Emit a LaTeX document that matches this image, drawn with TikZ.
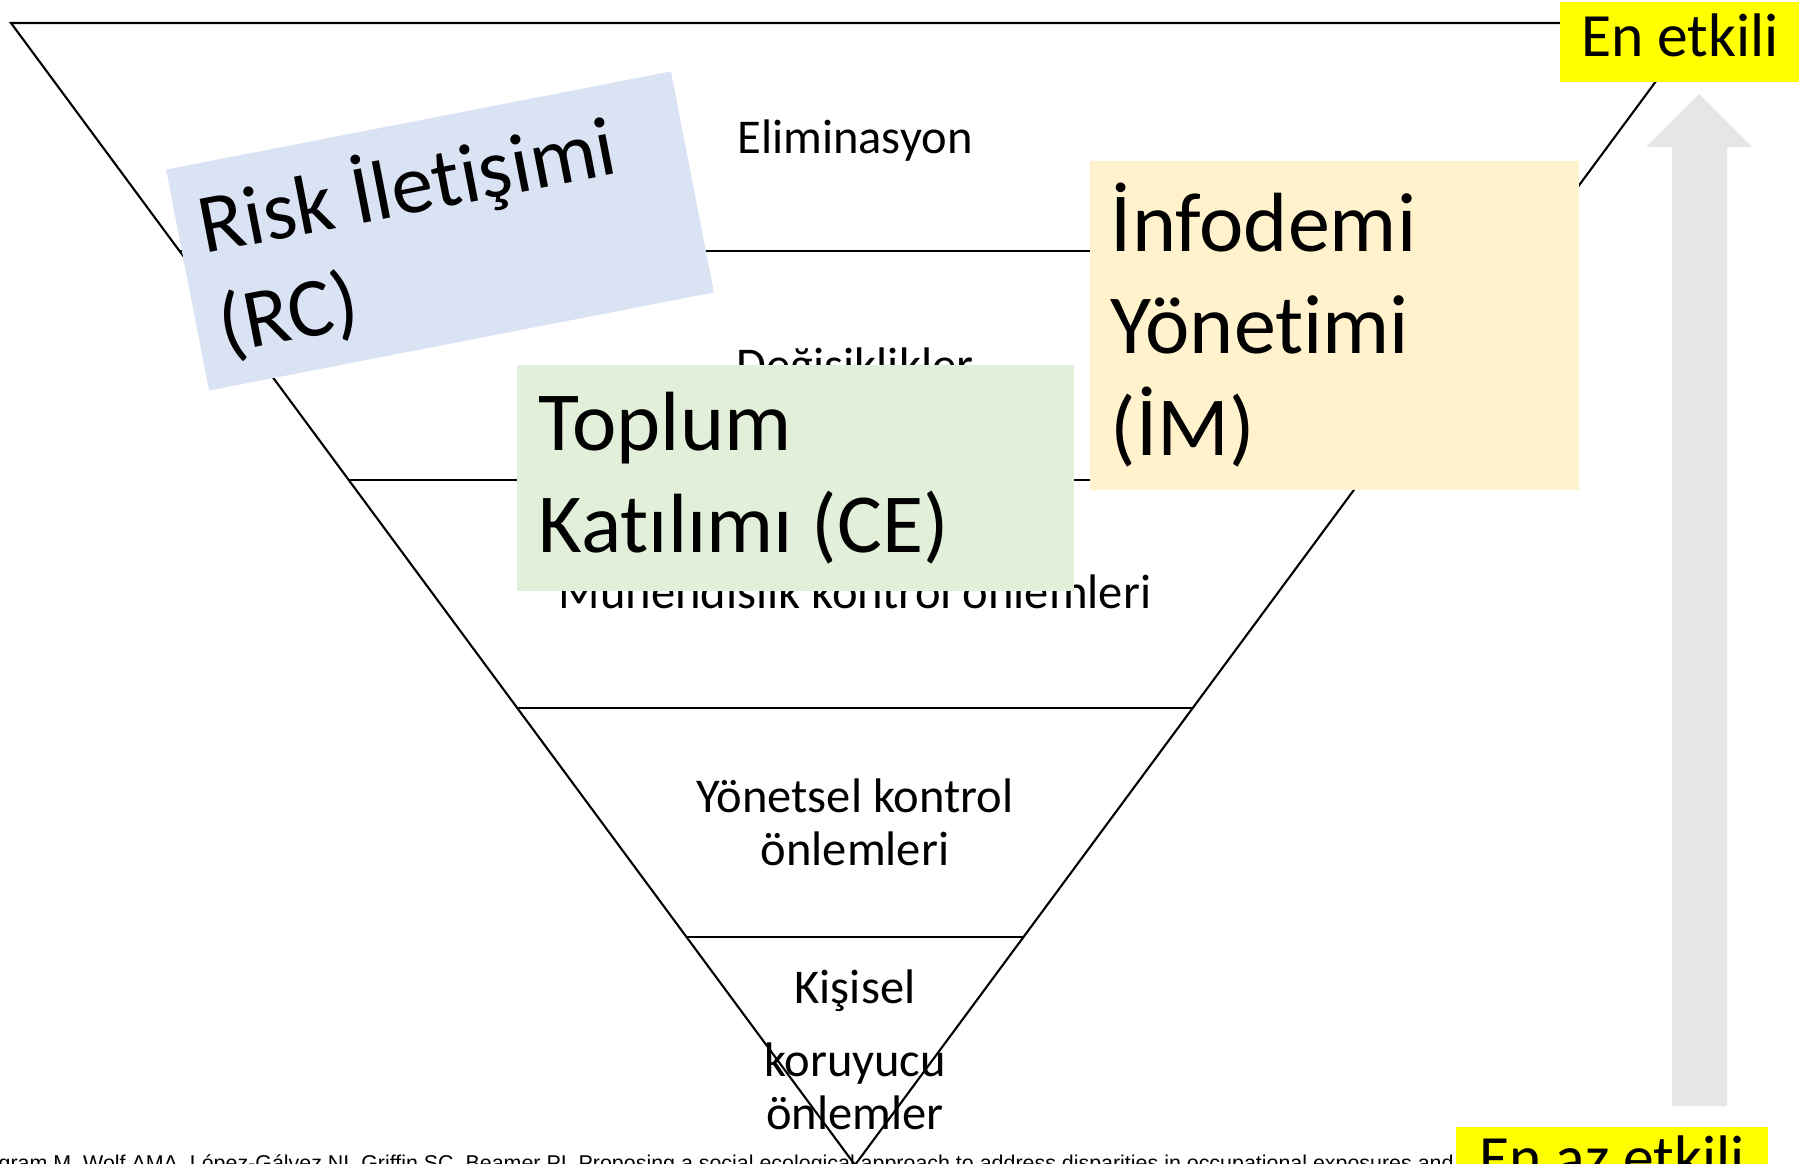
\documentclass[tikz,border=0pt]{standalone}
\usepackage{fontspec}
\setmainfont{Carlito}[Ligatures={NoCommon,NoRequired}, Contextuals={NoAlternate}]
\newfontfamily\refFNT{Liberation Sans}
\usepackage{xcolor}
\definecolor{rcBLUE}{HTML}{DAE3F3}
\definecolor{ceGREEN}{HTML}{E2F0D9}
\definecolor{imYELLOW}{HTML}{FFF2CC}
\definecolor{tagYELLOW}{HTML}{FFFF00}
\definecolor{arrGRAY}{HTML}{E7E6E6}

\begin{document}
\begin{tikzpicture}[x=0.01cm, y=-0.01cm,
                    lvlTX/.style={anchor=base,
                                  inner sep=0pt,
                                  font=\fontsize{13.8}{16}\selectfont},
                    bigBX/.style={inner sep=0pt,
                                  align=left,
                                  execute at begin node={\spaceskip=0pt\xspaceskip=0pt},
                                  font=\fontsize{23.9}{29}\selectfont},
                    tagBX/.style={anchor=base,
                                  fill=tagYELLOW,
                                  inner sep=0pt,
                                  font=\fontsize{17.5}{20}\selectfont},
                    lvlLN/.style={-, line width=0.6pt}]
                \useasboundingbox (0,0) rectangle (1799,1164);
                \clip (0,0) rectangle (1799,1164);
                \fill[white] (0,0) rectangle (1799,1164);
                % triangle and its levels
                \coordinate (TL) at (11,23);
                \coordinate (TR) at (1699,23);
                \coordinate (AP) at (855,1165);
                \coordinate (L1) at (179.8,251.4);
                \coordinate (R1) at (1530.2,251.4);
                \coordinate (L2) at (348.6,479.8);
                \coordinate (R2) at (1361.4,479.8);
                \coordinate (L3) at (517.4,708.2);
                \coordinate (R3) at (1192.6,708.2);
                \coordinate (L4) at (686.2,936.6);
                \coordinate (R4) at (1023.8,936.6);
                \draw[lvlLN, line join=miter] (TL) -- (TR) -- (AP) -- cycle;
                \path
                    (L1) edge [lvlLN] (R1)
                    (L2) edge [lvlLN] (R2)
                    (L3) edge [lvlLN] (R3)
                    (L4) edge [lvlLN] (R4)
                    ;
                \node[lvlTX](elim)  at (855,154)  {Eliminasyon};
                \node[lvlTX](degi)  at (855,382)  {Değişiklikler};
                \node[lvlTX](muhe)  at (855,609)  {Mühendislik kontrol önlemleri};
                \node[lvlTX](yonA)  at (855,813)  {Yönetsel kontrol};
                \node[lvlTX](yonB)  at (855,866)  {önlemleri};
                \node[lvlTX](kisA)  at (855,1003) {Kişisel};
                \node[lvlTX](kisB)  at (855,1076) {koruyucu};
                \node[lvlTX](kisC)  at (855,1129) {önlemler};
                % coloured boxes
                \node[bigBX, fill=rcBLUE, rotate=11,
                      minimum width=5.14cm, minimum height=2.25cm,
                      text width=4.70cm](rc) at (440,231) {Risk İletişimi\\(RC)};
                \node[bigBX, fill=ceGREEN,
                      minimum width=5.57cm, minimum height=2.26cm,
                      text width=5.13cm](ce) at (795.5,478) {Toplum\\Katılımı (CE)};
                \node[bigBX, fill=imYELLOW,
                      minimum width=4.89cm, minimum height=3.29cm,
                      text width=4.47cm](im) at (1334.5,325.5) {İnfodemi\\Yönetimi\\(İM)};
                % arrow
                \fill[arrGRAY] (1672,1106) -- (1672,147) -- (1646,147) -- (1699,94)
                               -- (1752,147) -- (1727,147) -- (1727,1106) -- cycle;
                \node[anchor=base west, inner sep=0pt,
                      font=\refFNT\fontsize{6.09}{7}\selectfont](cite) at (-2,1170)
                      {gram M, Wolf AMA, López-Gálvez NI, Griffin SC, Beamer PI. Proposing a social ecological approach to address disparities in occupational exposures and};
                \node[tagBX, text height=0.55cm, text depth=0.25cm,
                      minimum width=2.40cm](most)  at (1680,57)   {En etkili};
                \node[tagBX, text height=0.51cm, text depth=0.27cm,
                      minimum width=3.12cm](least) at (1612,1178) {En az etkili};
            \end{tikzpicture}
\end{document}
